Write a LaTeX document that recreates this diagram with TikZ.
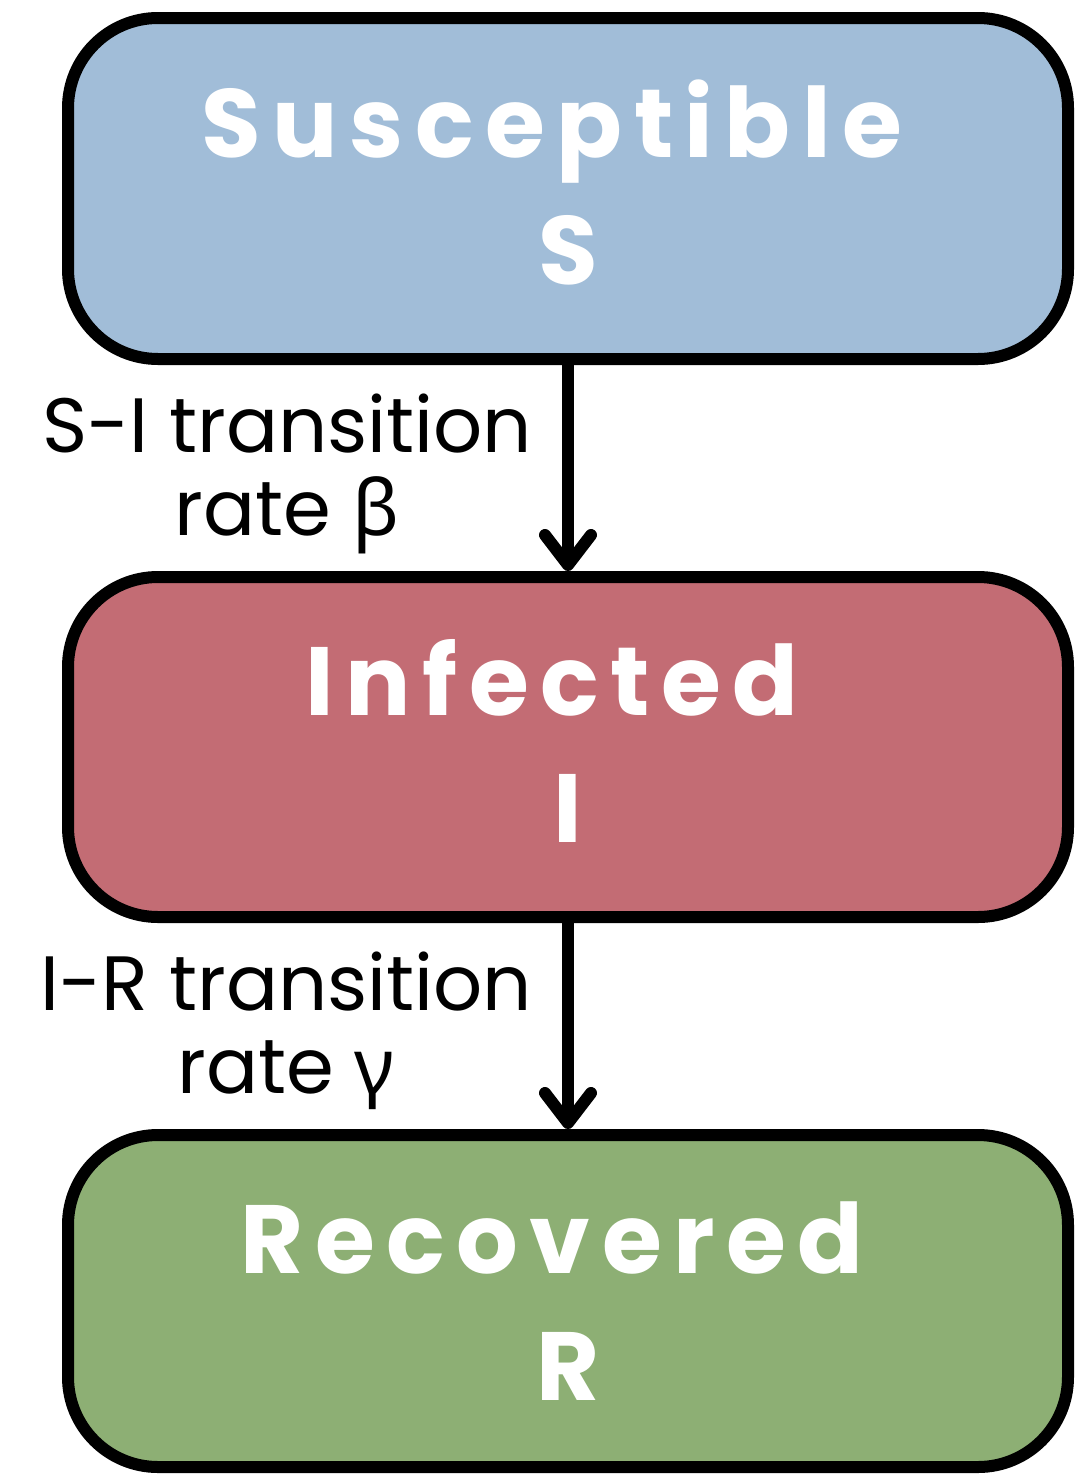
\documentclass[tikz,border=0pt]{standalone}
\usepackage{fontspec}
\setmainfont{Poppins}
\newfontfamily\titlefont{Poppins Bold}[LetterSpace=11.8]
\newfontfamily\greekfont{Noto Sans}
\usetikzlibrary{arrows.meta}

\definecolor{sblue}{HTML}{A1BDD8}
\definecolor{ired}{HTML}{C36C74}
\definecolor{rgreen}{HTML}{8DAF74}

% trailing space after a spaced title line, and a bottom strut that lifts the text
\newcommand{\trail}{\kern32pt}
\newcommand{\lift}{\rule[-13pt]{0pt}{0pt}}

\tikzset{
  compartment/.style={draw=black, line width=12pt, rounded corners=90pt,
    minimum width=1000pt, inner sep=0pt, align=center, text=white,
    font=\titlefont\fontsize{97}{127}\selectfont},
  flow/.style={line width=12pt,
    -{Straight Barb[length=30pt, width=46pt, line cap=round, line join=round]}},
  ratelabel/.style={anchor=base east, inner sep=0pt, align=center,
    font=\fontsize{77}{83}\selectfont}
}

\begin{document}
\begin{tikzpicture}[x=1pt, y=-1pt]
  \useasboundingbox (0,0) rectangle (1084,1476);

  \node[compartment, fill=sblue, minimum height=341pt] (S) at (568,188.5)
    {Susceptible\trail\\S\lift};
  \node[compartment, fill=ired, minimum height=340pt] (I) at (568,747)
    {Infected\trail\\I\lift};
  \node[compartment, fill=rgreen, minimum height=332pt] (R) at (568,1301)
    {Recovered\trail\\R};

  \draw[flow] (S.south) -- node[ratelabel, pos=0.83, xshift=-30pt]
    {S-I transition\\rate {\greekfont β}} (I.north);
  \draw[flow] (I.south) -- node[ratelabel, pos=0.83, xshift=-30pt]
    {I-R transition\\rate {\greekfont γ}} (R.north);
\end{tikzpicture}
\end{document}
